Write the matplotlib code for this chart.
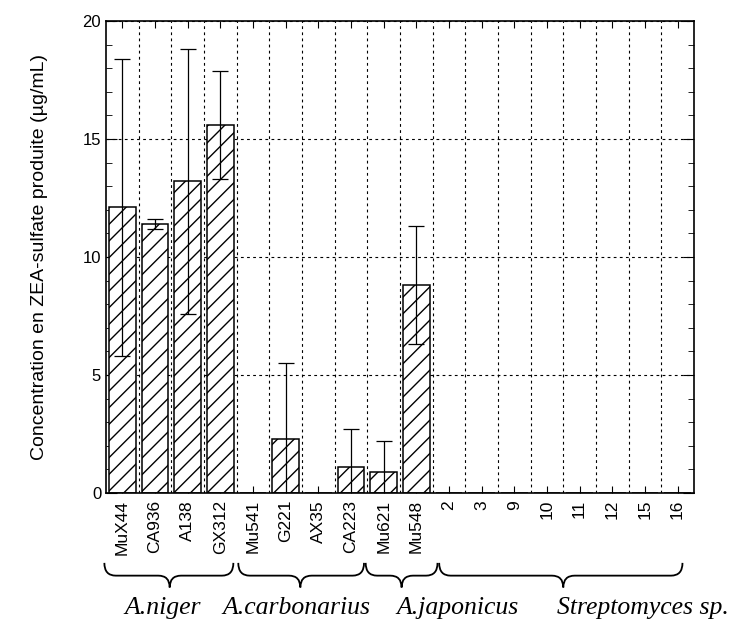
import matplotlib
matplotlib.use("Agg")
import matplotlib.pyplot as plt
import numpy as np
from matplotlib.path import Path
from matplotlib.patches import PathPatch
import matplotlib.transforms as mtransforms

# souches et concentrations
souches = ["MuX44", "CA936", "A138", "GX312", "Mu541", "G221", "AX35", "CA223",
           "Mu621", "Mu548", "2", "3", "9", "10", "11", "12", "15", "16"]
conc = [12.1, 11.4, 13.2, 15.6, 0, 2.3, 0, 1.1, 0.9, 8.8, 0, 0, 0, 0, 0, 0, 0, 0]
err = [6.3, 0.2, 5.6, 2.3, 0, 3.2, 0, 1.6, 1.3, 2.5, 0, 0, 0, 0, 0, 0, 0, 0]

especes = ["A.niger", "A.carbonarius", "A.japonicus", "Streptomyces sp."]
# bornes des accolades (indices des souches) et pointe
acc_debut = [-0.55, 3.55, 7.45, 9.7]
acc_fin = [3.4, 7.4, 9.65, 17.15]
acc_pointe = [1.45, 5.45, 8.55, 13.5]
txt_x = [1.24, 5.32, 10.27, 15.95]

plt.rcParams['font.family'] = ['Liberation Sans', 'DejaVu Sans']

fig = plt.figure(figsize=(7.34, 6.2), dpi=100)
ax = fig.add_axes([0.1444, 0.2048, 0.801, 0.7614])

x = np.arange(len(souches))
ax.set_axisbelow(True)
ax.bar(x, conc, width=0.82, color="white", edgecolor="black", linewidth=1.1,
       hatch="//", zorder=2)
ok = np.array(conc) > 0
ax.errorbar(x[ok], np.array(conc)[ok], yerr=np.array(err)[ok], fmt="none",
            ecolor="black", elinewidth=0.9, capsize=6, capthick=0.9, zorder=3)

ax.set_xlim(-0.5, len(souches) - 0.5)
ax.set_ylim(0, 20)
ax.set_xticks(x)
ax.set_xticklabels(souches, rotation=90, fontsize=12.5)
ax.set_xticks(np.arange(-0.5, len(souches), 1.0)[1:-1], minor=True)
ax.set_yticks([0, 5, 10, 15, 20])
ax.set_yticks(np.arange(0, 21, 1), minor=True)
ax.tick_params(axis="y", which="major", direction="in", length=8, right=True, labelsize=12)
ax.tick_params(axis="y", which="minor", direction="in", length=4, right=True)
ax.tick_params(axis="x", which="major", direction="in", length=5, top=True, pad=5)
ax.tick_params(axis="x", which="minor", direction="in", length=0)
ax.grid(axis="x", which="minor", color="black", linestyle=(0, (2.5, 3)), linewidth=0.8)
ax.grid(axis="y", which="major", color="black", linestyle=(0, (2.5, 3)), linewidth=0.8)
for s in ax.spines.values():
    s.set_linewidth(1.2)
ax.set_ylabel("Concentration en ZEA-sulfate produite (µg/mL)", fontsize=14, labelpad=25)

# accolades sous les noms de souches
trans = mtransforms.blended_transform_factory(ax.transData, ax.transAxes)
y_haut, y_mil, y_bas = -0.148, -0.175, -0.2
for a, b, m in zip(acc_debut, acc_fin, acc_pointe):
    d = 0.35
    verts = [(a, y_haut), (a, y_mil), (a + d, y_mil),
             (m - d, y_mil),
             (m, y_mil), (m, y_bas),
             (m, y_mil), (m + d, y_mil),
             (b - d, y_mil),
             (b, y_mil), (b, y_haut)]
    codes = [Path.MOVETO, Path.CURVE3, Path.CURVE3,
             Path.LINETO,
             Path.CURVE3, Path.CURVE3,
             Path.CURVE3, Path.CURVE3,
             Path.LINETO,
             Path.CURVE3, Path.CURVE3]
    ax.add_patch(PathPatch(Path(verts, codes), transform=trans, fill=False,
                           edgecolor="black", linewidth=1.3, clip_on=False))

for t, xt in zip(especes, txt_x):
    ax.text(xt, -0.243, t, transform=trans, ha="center", va="center",
            fontsize=18.5, style="italic", family=["Liberation Serif", "DejaVu Serif"])

fig.savefig("out.png", dpi=100)
